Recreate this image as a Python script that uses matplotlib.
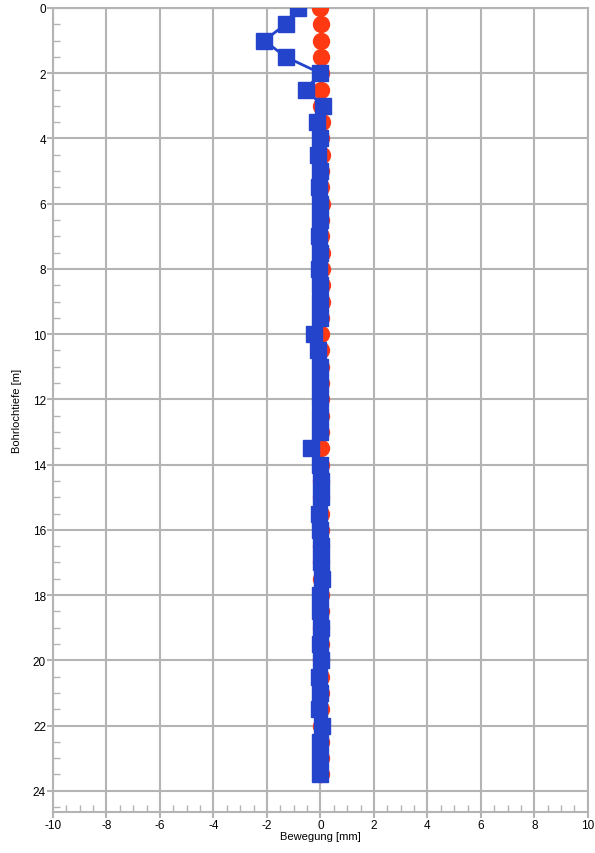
import matplotlib.pyplot as plt
from matplotlib.ticker import MultipleLocator

# Messtiefen [m]
depth = [0.0, 0.5, 1.0, 1.5, 2.0, 2.5, 3.0, 3.5, 4.0, 4.5, 5.0, 5.5,
         6.0, 6.5, 7.0, 7.5, 8.0, 8.5, 9.0, 9.5, 10.0, 10.5, 11.0, 11.5,
         12.0, 12.5, 13.0, 13.5, 14.0, 14.5, 15.0, 15.5, 16.0, 16.5, 17.0, 17.5,
         18.0, 18.5, 19.0, 19.5, 20.0, 20.5, 21.0, 21.5, 22.0, 22.5, 23.0, 23.5]

# Bezugsmessung (rot) [mm]
ref_move = [0.0, 0.02, 0.02, 0.02, 0.03, 0.03, 0.04, 0.05, 0.04, 0.05, 0.04, 0.04,
            0.05, 0.04, 0.04, 0.05, 0.05, 0.05, 0.05, 0.04, 0.04, 0.04, 0.03, 0.03,
            0.03, 0.03, 0.03, 0.04, 0.02, 0.01, 0.01, 0.01, 0.01, 0.01, 0.01, 0.01,
            0.01, 0.01, 0.01, 0.01, 0.02, 0.03, 0.03, 0.04, 0.01, 0.01, 0.01, 0.01]

# Folgemessung (blau) [mm]
cur_move = [-0.85, -1.3, -2.1, -1.3, 0.0, -0.55, 0.1, -0.12, 0.0, -0.08, 0.0, -0.04,
            0.0, -0.02, -0.04, 0.0, -0.06, 0.0, 0.0, 0.0, -0.25, -0.08, 0.0, 0.0,
            0.0, 0.0, 0.0, -0.35, 0.0, 0.02, 0.04, -0.04, 0.0, 0.02, 0.02, 0.06,
            0.0, 0.0, 0.02, 0.0, 0.04, -0.06, 0.0, -0.06, 0.06, 0.0, 0.0, 0.0]

plt.rcParams['font.family'] = ['Liberation Sans', 'DejaVu Sans']
plt.rcParams['axes.unicode_minus'] = False

fig = plt.figure(figsize=(5.95, 8.54), dpi=100)
ax = fig.add_axes([0.089, 0.048, 0.899, 0.9415])

grid_col = '#b4b4b4'
ax.plot(ref_move, depth, 'o', color='#ff3a12', markersize=11.5, zorder=3)
ax.plot(cur_move, depth, '-s', color='#2444cc', markersize=11.5, linewidth=2, zorder=4)

ax.set_xlim(-10, 10)
ax.set_ylim(24.65, 0)
ax.xaxis.set_major_locator(MultipleLocator(2))
ax.xaxis.set_minor_locator(MultipleLocator(0.5))
ax.yaxis.set_major_locator(MultipleLocator(2))
ax.yaxis.set_minor_locator(MultipleLocator(0.5))

ax.grid(which='major', color=grid_col, linewidth=1.5)
for s in ax.spines.values():
    s.set_color(grid_col)
    s.set_linewidth(1.5)

ax.tick_params(which='major', direction='out', length=4, width=1.5, color=grid_col,
               labelsize=8.5, pad=1)
ax.tick_params(which='minor', direction='in', length=5, width=1, color=grid_col)

ax.set_xlabel('Bewegung [mm]', fontsize=8, labelpad=0)
ax.set_ylabel('Bohrlochtiefe [m]', fontsize=8, labelpad=8)

fig.savefig('out.png', dpi=100)
